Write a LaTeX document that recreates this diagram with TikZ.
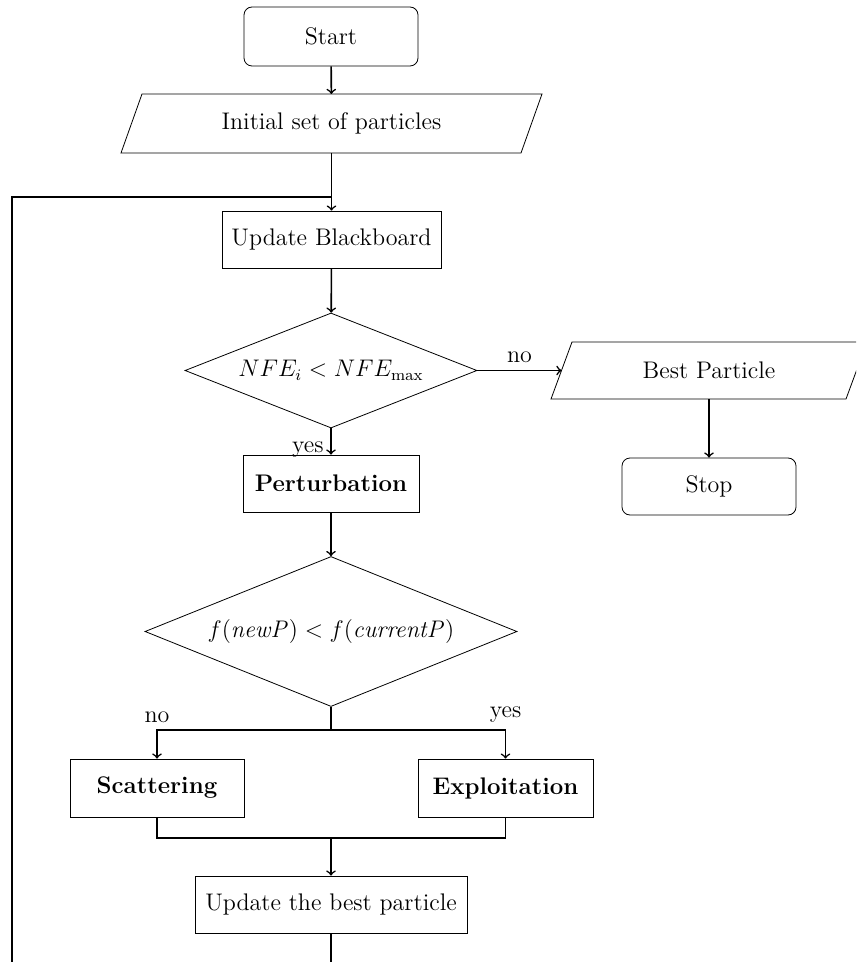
\documentclass[tikz,border=0pt]{standalone}
\usetikzlibrary{shapes.geometric}
\begin{document}
\begin{tikzpicture}[x=0.5pt,y=-0.5pt,
  font=\fontsize{12}{14.4}\selectfont,
  box/.style={draw, rectangle, minimum height=28.5pt, inner sep=2pt, align=center},
  term/.style={box, rounded corners=4pt},
  dec/.style={draw, diamond, inner sep=0pt, align=center},
  io/.style={rectangle, inner sep=0pt, outer sep=0pt},
  conn/.style={thick, ->},
  line/.style={thick}]
\useasboundingbox (0,0) rectangle (856,962);
\clip (0,0) rectangle (856,962);

% nodes
\node[term, minimum width=87pt, minimum height=29.5pt] (start) at (331,36.5) {Start};
\node[io, minimum width=200pt, minimum height=29.5pt] (init) at (331.5,123.5) {Initial set of particles};
\draw ([xshift=-5.25pt]init.south west) -- ([xshift=5.25pt]init.north west) -- ([xshift=5.25pt]init.north east) -- ([xshift=-5.25pt]init.south east) -- cycle;
\node[box, minimum width=109.5pt] (ubb) at (331.5,239.5) {Update Blackboard};
\node[dec, aspect=2.54, minimum width=146pt, minimum height=57.5pt] (d1) at (331,370.5) {$NFE_i < NFE_{\max}$};
\node[io, minimum width=147.5pt, minimum height=28.5pt] (bp) at (709,370.5) {Best Particle};
\draw ([xshift=-5.25pt]bp.south west) -- ([xshift=5.25pt]bp.north west) -- ([xshift=5.25pt]bp.north east) -- ([xshift=-5.25pt]bp.south east) -- cycle;
\node[term, minimum width=87pt] (stop) at (709,486.5) {Stop};
\node[box, minimum width=88pt] (pert) at (331,483.5) {\textbf{Perturbation}};
\node[dec, aspect=2.48, minimum width=186pt, minimum height=75pt] (d2) at (331,631.5) {$f(\mathit{newP}) < f(\mathit{currentP})$};
\node[box, minimum width=87pt, minimum height=29pt] (scat) at (157,788) {\textbf{Scattering}};
\node[box, minimum width=87.5pt, minimum height=29pt] (expl) at (505.5,788) {\textbf{Exploitation}};
\node[box, minimum width=136pt] (ubp) at (331,904.5) {Update the best particle};

% helper coordinates
\coordinate (join) at (331,197);
\coordinate (loopL) at (12,197);
\coordinate (split) at (331,730);
\coordinate (merge) at (331,838);
\coordinate (loopBR) at (331,1000);
\coordinate (loopBL) at (12,1000);

% connectors
\draw[conn] (start) -- (init);
\draw[conn] (init) -- (ubb);
\draw[conn] (ubb) -- (d1);
\draw[conn] (d1) -- node[above] {no} (bp);
\draw[conn] (d1) -- node[pos=0.8, left] {yes} (pert);
\draw[conn] (bp) -- (stop);
\draw[conn] (pert) -- (d2);
\draw[line] (d2.south) -- (split);
\draw[conn] (split) -| node[pos=0.5, above] {no} (scat.north);
\draw[conn] (split) -| node[pos=0.5, above] {yes} (expl.north);
\draw[line] (scat.south) -- (scat.south |- merge) -- (expl.south |- merge) -- (expl.south);
\draw[conn] (merge) -- (ubp);
\draw[line] (ubp.south) -- (loopBR) -- (loopBL) -- (loopL) -- (join);
\end{tikzpicture}
\end{document}
